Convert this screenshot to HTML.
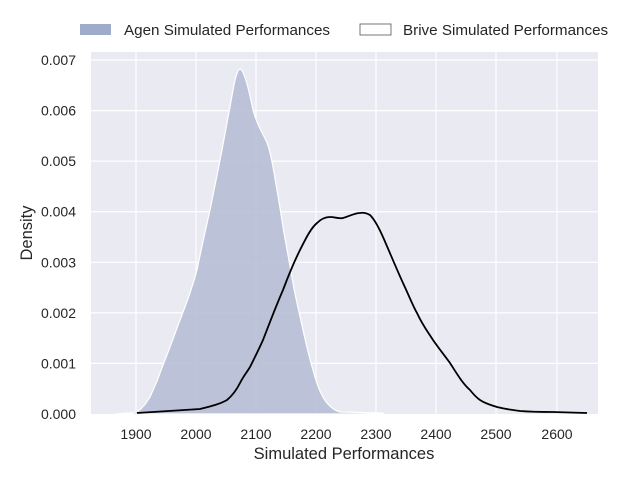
<!DOCTYPE html>
<html><head><meta charset="utf-8"><style>
body{margin:0;background:#fff;}
svg{display:block;font-family:"Liberation Sans",sans-serif;}
</style></head><body>
<svg width="640" height="480" viewBox="0 0 640 480">
<rect x="91" y="52" width="507" height="362" fill="#eaeaf2"/>
<g stroke="#fff" stroke-width="1.2">
<line x1="136" y1="52" x2="136" y2="414"/><line x1="196" y1="52" x2="196" y2="414"/>
<line x1="256" y1="52" x2="256" y2="414"/><line x1="316" y1="52" x2="316" y2="414"/>
<line x1="376" y1="52" x2="376" y2="414"/><line x1="436" y1="52" x2="436" y2="414"/>
<line x1="496" y1="52" x2="496" y2="414"/><line x1="557" y1="52" x2="557" y2="414"/>
<line x1="91" y1="60" x2="598" y2="60"/><line x1="91" y1="110.6" x2="598" y2="110.6"/>
<line x1="91" y1="161.1" x2="598" y2="161.1"/><line x1="91" y1="211.7" x2="598" y2="211.7"/>
<line x1="91" y1="262.3" x2="598" y2="262.3"/><line x1="91" y1="312.9" x2="598" y2="312.9"/>
<line x1="91" y1="363.4" x2="598" y2="363.4"/>
</g>
<path d="M115,414 L130,413 C134,413 136,412 138,411 C143,408 147,402 150,397 C153,390 157,382 160,373 L170,347 L180,320 C188,300 193,285 197,270 C202,245 206,228 210,210 C214,190 217,176 220,160 C224,140 227,122 230,107 C233,90 236,70 240,69 C244,70 249,90 253,110 C258,128 263,133 267,143 C270,150 271,157 273,167 C277,190 280,207 283,227 C286,245 290,265 293,283 C296,300 300,316 303,330 C307,348 310,360 313,370 C317,385 321,396 327,403 C332,409 336,411 340,412 L383,413 L383,414 Z" fill="#b7bfd6" fill-opacity="0.9" stroke="#fff" stroke-width="1.2"/>
<path d="M137,413 L200,409 C212,406 220,404 227,400 C233,395 237,389 240,383 C243,377 247,372 250,367 C255,357 259,349 263,340 C270,322 276,306 283,290 C289,274 294,262 300,250 C306,238 311,228 317,223 C322,218 326,217 330,217 C335,217 339,219 343,218 C350,216 355,213 360,213 C365,212 368,214 370,215 C375,220 379,228 383,237 C390,253 397,270 403,283 C410,298 413,306 417,313 C423,326 428,332 433,340 C440,350 445,356 450,363 C457,374 463,384 470,390 C474,395 477,398 480,400 C486,404 491,405 497,407 C505,409 512,410 520,411 C533,412 543,412 553,412 L587,413" fill="none" stroke="#000" stroke-width="1.8"/>
<g font-size="14" fill="#262626" text-anchor="end">
<text x="76" y="65">0.007</text><text x="76" y="115.6">0.006</text><text x="76" y="166.1">0.005</text>
<text x="76" y="216.7">0.004</text><text x="76" y="267.3">0.003</text><text x="76" y="317.9">0.002</text>
<text x="76" y="368.4">0.001</text><text x="76" y="419">0.000</text>
</g>
<g font-size="14" fill="#262626" text-anchor="middle">
<text x="136" y="439">1900</text><text x="196" y="439">2000</text><text x="256" y="439">2100</text>
<text x="316" y="439">2200</text><text x="376" y="439">2300</text><text x="436" y="439">2400</text>
<text x="496" y="439">2500</text><text x="557" y="439">2600</text>
<text x="344" y="459" font-size="16.5">Simulated Performances</text>
<text transform="translate(32,233) rotate(-90)" font-size="16.5">Density</text>
</g>
<rect x="80" y="24" width="31" height="11" fill="#9eabc9"/>
<rect x="360" y="24" width="31" height="11" fill="#fff" stroke="#555" stroke-width="0.8"/>
<g font-size="15.2" fill="#262626">
<text x="124" y="35">Agen Simulated Performances</text>
<text x="403" y="35">Brive Simulated Performances</text>
</g>
</svg>
</body></html>
